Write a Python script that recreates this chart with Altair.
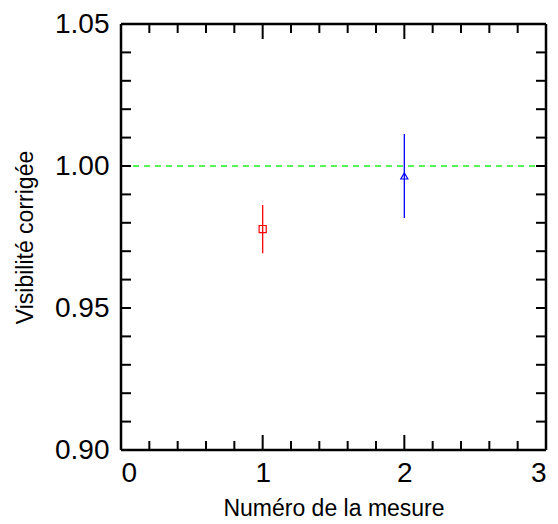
import altair as alt
import pandas as pd

# data
mesure = [1, 2]
visibilite = [0.9778, 0.9965]
erreur = [0.0085, 0.0148]
couleurs = ["#ff0000", "#0000ff"]
formes = ["square", "triangle-up"]

reference_y = [1.0]

x_major = [0, 1, 2, 3]
x_minor = [0.2, 0.4, 0.6, 0.8, 1.2, 1.4, 1.6, 1.8, 2.2, 2.4, 2.6, 2.8]
y_major = [0.90, 0.95, 1.00, 1.05]
y_minor = [0.91, 0.92, 0.93, 0.94, 0.96, 0.97, 0.98, 0.99, 1.01, 1.02, 1.03, 1.04]

W, H = 425, 426
FONT = "Liberation Sans"
X0, X1 = 0, 3
Y0, Y1 = 0.90, 1.05

xs = alt.Scale(domain=[X0, X1], nice=False, zero=False)
ys = alt.Scale(domain=[Y0, Y1], nice=False, zero=False)

# tick lengths (pixels) expressed in data units
XMAJ_LEN = 15 * (Y1 - Y0) / H
XMIN_LEN = 9 * (Y1 - Y0) / H
Y_LEN = 10 * (X1 - X0) / W

# one table of segments: error bars, inward ticks and the frame
rows = []
for m, v, e, c in zip(mesure, visibilite, erreur, couleurs):
    rows.append((m, m, v - e, v + e, c, 1.3))
for t in x_major:
    rows.append((t, t, Y0, Y0 + XMAJ_LEN, "black", 2))
    rows.append((t, t, Y1, Y1 - XMAJ_LEN, "black", 2))
for t in x_minor:
    rows.append((t, t, Y0, Y0 + XMIN_LEN, "black", 2))
    rows.append((t, t, Y1, Y1 - XMIN_LEN, "black", 2))
for t in y_major + y_minor:
    rows.append((X0, X0 + Y_LEN, t, t, "black", 2))
    rows.append((X1, X1 - Y_LEN, t, t, "black", 2))
rows += [
    (X0, X1, Y0, Y0, "black", 2.5),
    (X0, X1, Y1, Y1, "black", 2.5),
    (X0, X0, Y0, Y1, "black", 2.5),
    (X1, X1, Y0, Y1, "black", 2.5),
]
seg = pd.DataFrame(rows, columns=["xa", "xb", "ya", "yb", "c", "w"])

pts_df = pd.DataFrame({"m": mesure, "v": visibilite, "c": couleurs, "s": formes})

xaxis = alt.Axis(values=x_major, format="d", ticks=False, domain=False, grid=False,
                 labelFontSize=28, labelFont=FONT, labelColor="black", labelPadding=9,
                 title="Numéro de la mesure", titleFont=FONT, titleFontSize=23,
                 titleFontWeight="normal", titleColor="black", titlePadding=10)
yaxis = alt.Axis(values=y_major, format=".2f", ticks=False, domain=False, grid=False,
                 labelFontSize=28, labelFont=FONT, labelColor="black", labelPadding=12,
                 title="Visibilité corrigée", titleFont=FONT, titleFontSize=23,
                 titleFontWeight="normal", titleColor="black", titlePadding=17)

ref = alt.Chart(pd.DataFrame({"yr": reference_y})).mark_rule(
    color="#22ee22", strokeDash=[6, 5], strokeWidth=1.3
).encode(y=alt.Y("yr:Q", scale=ys, axis=yaxis))

segments = alt.Chart(seg).mark_rule().encode(
    x=alt.X("xa:Q", scale=xs, axis=xaxis),
    x2="xb:Q",
    y=alt.Y("ya:Q", scale=ys),
    y2="yb:Q",
    color=alt.Color("c:N", scale=None, legend=None),
    strokeWidth=alt.StrokeWidth("w:Q", scale=None, legend=None),
)

pts = alt.Chart(pts_df).mark_point(filled=False, strokeWidth=1.2, size=50, opacity=1).encode(
    x=alt.X("m:Q", scale=xs),
    y=alt.Y("v:Q", scale=ys),
    color=alt.Color("c:N", scale=None, legend=None),
    shape=alt.Shape("s:N", scale=None, legend=None),
)

chart = alt.layer(ref, segments, pts).properties(
    width=W, height=H,
    autosize=alt.AutoSizeParams(type="none"),
    padding={"left": 113, "top": 16, "right": 4, "bottom": 74},
).configure_view(stroke="black", strokeWidth=2.5).configure(background="white")

chart.save("out.html", embed_options={"renderer": "svg", "actions": False})
